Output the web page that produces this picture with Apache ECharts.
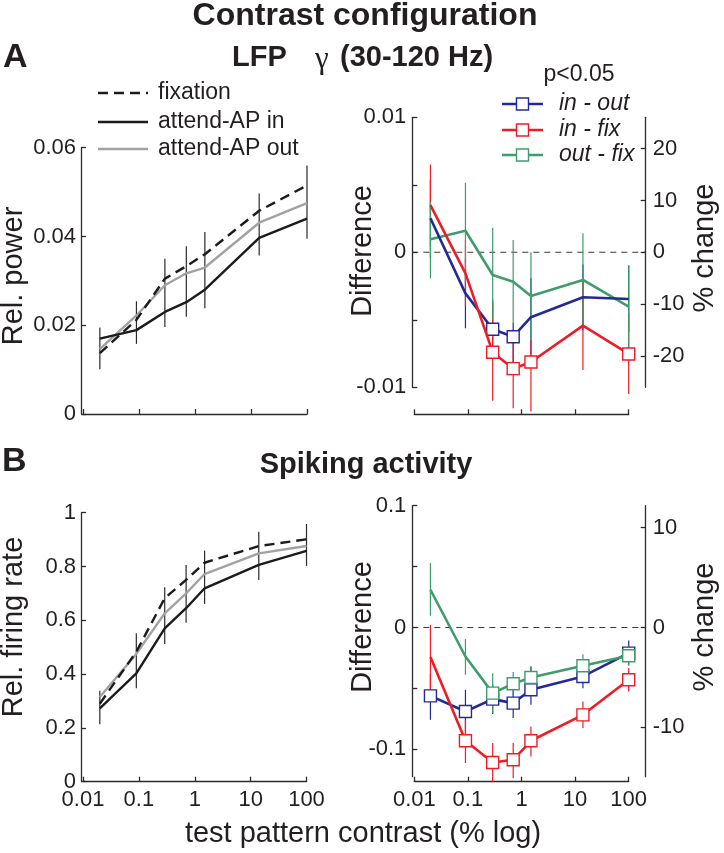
<!DOCTYPE html>
<html><head><meta charset="utf-8">
<script src="https://cdn.jsdelivr.net/npm/echarts@6/dist/echarts.min.js"></script>
<style>html,body{margin:0;padding:0;background:#fff}#c{width:724px;height:853px}</style>
</head><body><div id="c"></div>
<script>
// ---------------- data ----------------
const contrast = [0.02, 0.09, 0.29, 0.7, 1.5, 14, 100];
const xTickLabels = ['0.01', '0.1', '1', '10', '100'];

// Panel A left: LFP gamma relative power
const lfpFix = [0.0137, 0.0212, 0.0305, 0.0333, 0.0360, 0.0458, 0.0515];
const lfpIn  = [0.0170, 0.0189, 0.0230, 0.0252, 0.0280, 0.0397, 0.0440];
const lfpOut = [0.0146, 0.0222, 0.0290, 0.0317, 0.0330, 0.0431, 0.0475];
const lfpErrLo = [0.0101, 0.0158, 0.0196, 0.0219, 0.0238, 0.0357, 0.0395];
const lfpErrHi = [0.0195, 0.0254, 0.0350, 0.0378, 0.0410, 0.0497, 0.0560];
const lfpYTicks = ['0', '0.02', '0.04', '0.06'];

// Panel A right: differences
const lfpInOut   = [0.00252, -0.00304, -0.0057, -0.00625, -0.00481, -0.00333, -0.00346];
const lfpInOutLo = [-0.0004, -0.00563, -0.0079, -0.00822, -0.0077, -0.0058, -0.0059];
const lfpInOutHi = [0.0054, -0.00045, -0.0035, -0.00521, -0.0019, -0.0009, -0.0010];
const lfpInOutSig = [0, 0, 1, 1, 0, 0, 0];
const lfpInFix   = [0.0035, -0.00156, -0.0074, -0.00862, -0.00813, -0.00543, -0.00753];
const lfpInFixLo = [0.0004, -0.0040, -0.0110, -0.01156, -0.0118, -0.00872, -0.0105];
const lfpInFixHi = [0.0065, 0.0009, -0.0038, -0.0057, -0.0065, -0.0022, -0.0045];
const lfpInFixSig = [0, 0, 1, 1, 1, 0, 1];
const lfpOutFix   = [0.00096, 0.0016, -0.00168, -0.00218, -0.00324, -0.00205, -0.00403];
const lfpOutFixLo = [-0.00193, -0.0022, -0.00501, -0.00526, -0.0065, -0.0055, -0.0075];
const lfpOutFixHi = [0.00375, 0.00516, 0.00182, 0.00091, 0.0, 0.00141, -0.00094];
const lfpOutFixSig = [0, 0, 0, 0, 0, 0, 0];
const lfpDiffTicks = [-0.01, -0.005, 0, 0.005, 0.01];
const lfpDiffLabels = [-0.01, 0, 0.01];
const lfpPctTicks = [-20, -10, 0, 10, 20];

// Panel B left: relative firing rate
const spkFix = [0.290, 0.483, 0.682, 0.750, 0.814, 0.876, 0.901];
const spkIn  = [0.273, 0.403, 0.570, 0.645, 0.719, 0.806, 0.858];
const spkOut = [0.315, 0.475, 0.626, 0.700, 0.772, 0.849, 0.876];
const spkErrLo = [0.214, 0.347, 0.512, 0.591, 0.661, 0.750, 0.802];
const spkErrHi = [0.338, 0.552, 0.723, 0.806, 0.859, 0.929, 0.958];

// Panel B right: differences
const spkInOut   = [-0.0561, -0.0690, -0.0588, -0.0621, -0.0511, -0.0402, -0.0210];
const spkInOutLo = [-0.0758, -0.0922, -0.0710, -0.0744, -0.0634, -0.0498, -0.0306];
const spkInOutHi = [-0.0380, -0.0511, -0.0470, -0.0511, -0.0320, -0.0292, -0.0107];
const spkInOutSig = [1, 1, 1, 1, 1, 1, 1];
const spkInFix   = [-0.0243, -0.0930, -0.1108, -0.1086, -0.0930, -0.0717, -0.0429];
const spkInFixLo = [-0.0510, -0.1113, -0.1270, -0.1235, -0.1059, -0.0826, -0.0525];
const spkInFixHi = [0.0022, -0.0758, -0.0949, -0.0949, -0.0813, -0.0607, -0.0333];
const spkInFixSig = [0, 1, 1, 1, 1, 1, 1];
const spkOutFix   = [0.0310, -0.0238, -0.0539, -0.0462, -0.0410, -0.0314, -0.0232];
const spkOutFixLo = [0.0096, -0.0388, -0.0703, -0.0571, -0.0511, -0.0402, -0.0314];
const spkOutFixHi = [0.0529, -0.0095, -0.0375, -0.0366, -0.0320, -0.0219, -0.0150];
const spkOutFixSig = [0, 0, 1, 1, 1, 1, 1];
const spkDiffTicks = [-0.1, -0.05, 0, 0.05, 0.1];
const spkDiffLabels = [-0.1, 0, 0.1];
const spkPctTicks = [-10, 0, 10];

// ---------------- styles ----------------
const FONT = '"Liberation Sans", Arial, Helvetica, sans-serif';
const TXT = '#231f20';
const AX = '#2b2b2b';
const BLUE = '#232a98', RED = '#ee1d25', GREEN = '#3f9c6c';
const GRAY = '#a2a2a2', BLACK = '#1b1b1b';

const chart = echarts.init(document.getElementById('c'), null, {renderer: 'canvas'});

function fmtNum(v) { return String(parseFloat(Number(v).toPrecision(6))); }

function logX(gridIndex, showLabels, offset) {
  return {
    type: 'log', logBase: 10, gridIndex, min: 0.01, max: 100, offset: offset || 0,
    axisLine: {show: true, onZero: false, lineStyle: {color: AX, width: 1.3}},
    axisTick: {show: true, inside: true, length: 5, lineStyle: {color: AX, width: 1.3}},
    minorTick: {show: false}, splitLine: {show: false},
    axisLabel: {show: showLabels, fontFamily: FONT, fontSize: 22, color: TXT, margin: 7,
      formatter: v => xTickLabels[Math.round(Math.log10(v)) + 2]}
  };
}
function yAx(gridIndex, o) {
  return Object.assign({
    type: 'value', gridIndex, scale: false,
    axisLine: {show: true, onZero: false, lineStyle: {color: AX, width: 1.3}},
    axisTick: {show: true, inside: true, length: 5, lineStyle: {color: AX, width: 1.3}},
    splitLine: {show: false},
    axisLabel: {fontFamily: FONT, fontSize: 22, color: TXT, margin: 6}
  }, o);
}

function pts(vals) { return contrast.map((c, i) => [c, vals[i]]); }

function lineS(name, xi, yi, vals, color, dashed, z) {
  return {type: 'line', name, xAxisIndex: xi, yAxisIndex: yi, data: pts(vals), symbol: 'none',
    silent: true, animation: false, z: z,
    lineStyle: {color, width: 2.4, type: dashed ? [10, 6] : 'solid'}};
}
function diffS(name, xi, yi, vals, sig, color, z) {
  return {type: 'line', name, xAxisIndex: xi, yAxisIndex: yi, animation: false, silent: true, z: z,
    data: contrast.map((c, i) => ({value: [c, vals[i]], symbol: sig[i] ? 'rect' : 'none'})),
    symbol: 'rect', symbolSize: 12, showAllSymbol: true,
    lineStyle: {color, width: 2.6},
    itemStyle: {color: '#ffffff', borderColor: color, borderWidth: 1.4}};
}
function errS(xi, yi, lo, hi, color, width, z) {
  return {type: 'custom', xAxisIndex: xi, yAxisIndex: yi, animation: false, silent: true, z: z, clip: false,
    data: contrast.map((c, i) => [c, lo[i], hi[i]]),
    encode: {x: 0, y: [1, 2]},
    renderItem: (params, api) => {
      const a = api.coord([api.value(0), api.value(1)]);
      const b = api.coord([api.value(0), api.value(2)]);
      return {type: 'line', shape: {x1: a[0], y1: a[1], x2: b[0], y2: b[1]},
        style: {stroke: color, lineWidth: width}};
    }};
}

const grids = [
  {left: 83, top: 147.7, width: 224, height: 266.3},
  {left: 414.3, top: 117.3, width: 214.4, height: 270},
  {left: 83, top: 512.7, width: 223.5, height: 269},
  {left: 414.3, top: 505.7, width: 214.4, height: 271}
].map(g => Object.assign({outerBoundsMode: 'none', containLabel: false}, g));

const option = {
  backgroundColor: '#ffffff',
  animation: false,
  grid: grids,
  xAxis: [logX(0, false, 0), logX(1, false, 27), logX(2, true, 0), logX(3, true, 5)],
  yAxis: [
    yAx(0, {min: 0, max: 0.06, interval: 0.02, offset: 2,
      axisLabel: {fontFamily: FONT, fontSize: 22, color: TXT, margin: 5,
        formatter: v => lfpYTicks[Math.round(v / 0.02)]}}),
    yAx(1, {min: -0.01, max: 0.01, offset: 2,
      axisTick: {show: true, inside: true, length: 5, customValues: lfpDiffTicks, lineStyle: {color: AX, width: 1.3}},
      axisLabel: {fontFamily: FONT, fontSize: 22, color: TXT, margin: 6, customValues: lfpDiffLabels, formatter: fmtNum}}),
    yAx(1, {min: -26.06, max: 26.06, position: 'right', offset: 17,
      axisTick: {show: true, inside: true, length: 5, customValues: lfpPctTicks, lineStyle: {color: AX, width: 1.3}},
      axisLabel: {fontFamily: FONT, fontSize: 22, color: TXT, margin: 7, customValues: lfpPctTicks, formatter: fmtNum}}),
    yAx(2, {min: 0, max: 1, interval: 0.2, offset: 2,
      axisLabel: {fontFamily: FONT, fontSize: 22, color: TXT, margin: 5, formatter: fmtNum}}),
    yAx(3, {min: -0.1225, max: 0.1, offset: 2,
      axisTick: {show: true, inside: true, length: 5, customValues: spkDiffTicks, lineStyle: {color: AX, width: 1.3}},
      axisLabel: {fontFamily: FONT, fontSize: 22, color: TXT, margin: 6, customValues: spkDiffLabels, formatter: fmtNum}}),
    yAx(3, {min: -14.95, max: 12.2, position: 'right', offset: 17,
      axisTick: {show: true, inside: true, length: 5, customValues: spkPctTicks, lineStyle: {color: AX, width: 1.3}},
      axisLabel: {fontFamily: FONT, fontSize: 22, color: TXT, margin: 7, customValues: spkPctTicks, formatter: fmtNum}})
  ],
  series: [
    // Panel A left
    errS(0, 0, lfpErrLo, lfpErrHi, '#2a2a2a', 1.2, 1),
    lineS('attend-AP out', 0, 0, lfpOut, GRAY, false, 2),
    lineS('attend-AP in', 0, 0, lfpIn, BLACK, false, 3),
    lineS('fixation', 0, 0, lfpFix, BLACK, true, 4),
    // Panel A right
    errS(1, 1, lfpInOutLo, lfpInOutHi, BLUE, 1.2, 1),
    errS(1, 1, lfpInFixLo, lfpInFixHi, RED, 1.2, 1),
    errS(1, 1, lfpOutFixLo, lfpOutFixHi, GREEN, 1.2, 1),
    diffS('out - fix', 1, 1, lfpOutFix, lfpOutFixSig, GREEN, 2),
    diffS('in - out', 1, 1, lfpInOut, lfpInOutSig, BLUE, 3),
    diffS('in - fix', 1, 1, lfpInFix, lfpInFixSig, RED, 4),
    // Panel B left
    errS(2, 3, spkErrLo, spkErrHi, '#2a2a2a', 1.2, 1),
    lineS('attend-AP out', 2, 3, spkOut, GRAY, false, 2),
    lineS('attend-AP in', 2, 3, spkIn, BLACK, false, 3),
    lineS('fixation', 2, 3, spkFix, BLACK, true, 4),
    // Panel B right
    errS(3, 4, spkInOutLo, spkInOutHi, BLUE, 1.2, 1),
    errS(3, 4, spkInFixLo, spkInFixHi, RED, 1.2, 1),
    errS(3, 4, spkOutFixLo, spkOutFixHi, GREEN, 1.2, 1),
    diffS('in - out', 3, 4, spkInOut, spkInOutSig, BLUE, 2),
    diffS('in - fix', 3, 4, spkInFix, spkInFixSig, RED, 3),
    diffS('out - fix', 3, 4, spkOutFix, spkOutFixSig, GREEN, 4)
  ]
};
chart.setOption(option);

// ---------------- text, legends, reference lines ----------------
function txt(text, x, y, size, opts) {
  return Object.assign({type: 'text', x, y, silent: true, z: 10,
    style: Object.assign({text, fill: TXT, fontFamily: FONT, fontSize: size,
      textAlign: 'center', textVerticalAlign: 'middle'}, (opts && opts.style) || {})},
    opts ? {rotation: opts.rotation || 0} : {});
}
const g = [];
g.push(txt('Contrast configuration', 365, 16, 32, {style: {fontWeight: 'bold'}}));
g.push(txt('A', 3, 58, 34, {style: {fontWeight: 'bold', textAlign: 'left'}}));
g.push(txt('LFP', 232, 58, 29, {style: {fontWeight: 'bold', textAlign: 'left'}}));
g.push(txt('γ', 315, 60, 31, {style: {fontFamily: '"Liberation Serif", "DejaVu Serif", serif', textAlign: 'left'}}));
g.push(txt('(30-120 Hz)', 340, 58, 29, {style: {fontWeight: 'bold', textAlign: 'left'}}));
g.push(txt('B', 2, 462, 34, {style: {fontWeight: 'bold', textAlign: 'left'}}));
g.push(txt('Spiking activity', 366, 465, 29, {style: {fontWeight: 'bold'}}));
// axis names
g.push(txt('Rel. power', 14, 276, 29, {rotation: Math.PI / 2}));
g.push(txt('Rel. firing rate', 14, 627, 29, {rotation: Math.PI / 2}));
g.push(txt('Difference', 363, 251, 29, {rotation: Math.PI / 2}));
g.push(txt('Difference', 363, 627, 29, {rotation: Math.PI / 2}));
g.push(txt('% change', 705, 248, 29, {rotation: Math.PI / 2}));
g.push(txt('% change', 705, 627, 29, {rotation: Math.PI / 2}));
g.push(txt('test pattern contrast (% log)', 363, 834, 29));
// left legend
const leftLegend = [['fixation', BLACK, true], ['attend-AP in', BLACK, false], ['attend-AP out', GRAY, false]];
const leftLegendY = [93, 122, 149];
leftLegend.forEach((it, i) => {
  const y = leftLegendY[i];
  g.push({type: 'line', silent: true, z: 10, shape: {x1: 98, y1: y, x2: 148, y2: y},
    style: {stroke: it[1], lineWidth: 2.4, lineDash: it[2] ? [10, 6] : null}});
  g.push(txt(it[0], 158, y, 23, {style: {textAlign: 'left'}}));
});
// right legend
g.push(txt('p<0.05', 579, 75, 23));
const rightLegend = [['in - out', BLUE], ['in - fix', RED], ['out - fix', GREEN]];
const rightLegendY = [104, 130, 155];
rightLegend.forEach((it, i) => {
  const y = rightLegendY[i];
  g.push({type: 'line', silent: true, z: 10, shape: {x1: 502, y1: y, x2: 543, y2: y},
    style: {stroke: it[1], lineWidth: 2.6}});
  g.push({type: 'rect', silent: true, z: 11, shape: {x: 516.5, y: y - 6, width: 12, height: 12},
    style: {fill: '#fff', stroke: it[1], lineWidth: 1.4}});
  g.push(txt(it[0], 559, y, 23, {style: {textAlign: 'left', fontStyle: 'italic'}}));
});
// dashed zero lines across difference panels, located through the axes
[1, 3].forEach(gi => {
  const pL = chart.convertToPixel({gridIndex: gi}, [0.01, 0]);
  const pR = chart.convertToPixel({gridIndex: gi}, [100, 0]);
  g.push({type: 'line', silent: true, z: 0,
    shape: {x1: pL[0] - 2, y1: pL[1], x2: pR[0] + 17, y2: pR[1]},
    style: {stroke: '#3a3a3a', lineWidth: 1.1, lineDash: [6, 5]}});
});
chart.setOption({graphic: {elements: g}});
</script>
</body></html>
